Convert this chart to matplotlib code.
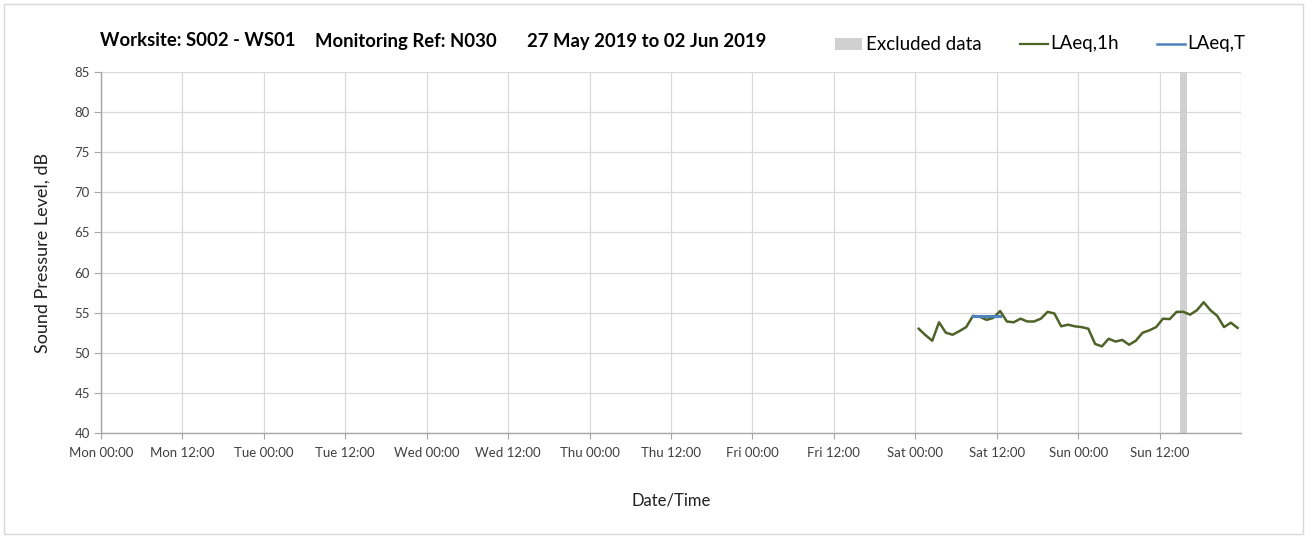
import numpy as np
import matplotlib
matplotlib.use("Agg")
import matplotlib.pyplot as plt
from matplotlib.patches import Rectangle
from matplotlib.lines import Line2D

# ---- data ----
title_parts = ["Worksite: S002 - WS01", "Monitoring Ref: N030", "27 May 2019 to 02 Jun 2019"]
tick_labels = ["Mon 00:00", "Mon 12:00", "Tue 00:00", "Tue 12:00", "Wed 00:00", "Wed 12:00",
               "Thu 00:00", "Thu 12:00", "Fri 00:00", "Fri 12:00", "Sat 00:00", "Sat 12:00",
               "Sun 00:00", "Sun 12:00"]
legend_labels = ["Excluded data", "LAeq,1h", "LAeq,T"]
# hours since Mon 00:00 (hourly readings Sat 00:30 .. Sun 23:30)
laeq1h_hours = list(np.arange(120.5, 168.0, 1.0))
laeq1h_values = [53.0, 52.2, 51.5, 53.8, 52.5, 52.25, 52.7, 53.2, 54.6, 54.5, 54.1, 54.35,
                 55.2, 53.9, 53.8, 54.25, 53.9, 53.9, 54.25, 55.1, 54.9, 53.3, 53.5, 53.3,
                 53.2, 53.0, 51.1, 50.8, 51.75, 51.4, 51.6, 51.0, 51.5, 52.5, 52.8, 53.2,
                 54.25, 54.2, 55.1, 55.1, 54.75, 55.3, 56.3, 55.3, 54.6, 53.2, 53.75, 53.1]
laeqT_hours = [128.5, 132.5]
laeqT_values = [54.6, 54.6]
excluded_start = 159.0
excluded_end = 160.0

GREY = '#d0d0d0'
GREEN = '#4f6228'
BLUE = '#4f81bd'

# ---- figure ----
W, H = 1306, 536
plt.rcParams['font.family'] = ['Lato', 'DejaVu Sans']
fig = plt.figure(figsize=(W / 100, H / 100), dpi=100)

ax = fig.add_axes([101 / W, 1 - 433 / H, (1241 - 101) / W, (433 - 72) / H])

ax.axvspan(excluded_start, excluded_end, color=GREY, lw=0, zorder=1)
ax.plot(laeq1h_hours, laeq1h_values, color=GREEN, lw=1.8, zorder=3)
ax.plot(laeqT_hours, laeqT_values, color=BLUE, lw=2.2, zorder=4)

ax.set_xlim(0, 168)
ax.set_ylim(40, 85)
ax.set_xticks(np.arange(0, 168, 12))
ax.set_xticklabels(tick_labels, fontsize=9.5, color='#404040')
ax.set_yticks(np.arange(40, 86, 5))
ax.tick_params(axis='y', labelsize=9.5, colors='#404040', length=5, color='#a6a6a6', pad=3)
ax.tick_params(axis='x', length=4, color='#a6a6a6', pad=6)

ax.grid(True, color='#d9d9d9', lw=0.9, zorder=0)
ax.set_axisbelow(True)
for s in ['top', 'right']:
    ax.spines[s].set_visible(False)
for s in ['left', 'bottom']:
    ax.spines[s].set_color('#a6a6a6')
    ax.spines[s].set_linewidth(1.0)
ax.axvline(168, color='#d9d9d9', lw=0.9, zorder=0)

ax.set_ylabel("Sound Pressure Level, dB", fontsize=13, color='#202020', labelpad=17)
ax.set_xlabel("Date/Time", fontsize=12, color='#202020', labelpad=24)

# title parts
ty = 1 - 41 / H
for xpx, txt in zip([100, 315, 527], title_parts):
    fig.text(xpx / W, ty, txt, fontsize=13.3, fontweight='bold', va='center', ha='left')

# legend (manually placed)
ly = 1 - 44 / H
fig.add_artist(Rectangle((835 / W, 1 - 50 / H), 27 / W, 12 / H, transform=fig.transFigure,
                         facecolor=GREY, edgecolor='none'))
fig.text(866 / W, ly, legend_labels[0], fontsize=13.5, va='center', ha='left')
fig.add_artist(Line2D([1020 / W, 1048 / W], [ly, ly], transform=fig.transFigure, color=GREEN, lw=1.6))
fig.text(1050 / W, ly, legend_labels[1], fontsize=13.5, va='center', ha='left')
fig.add_artist(Line2D([1157 / W, 1185 / W], [ly, ly], transform=fig.transFigure, color=BLUE, lw=1.8))
fig.text(1187 / W, ly, legend_labels[2], fontsize=13.5, va='center', ha='left')

# outer border
fig.add_artist(Rectangle((4 / W, 2 / H), (1303 - 4) / W, (532 - 2) / H, transform=fig.transFigure,
                         fill=False, edgecolor='#d9d9d9', lw=1.0))

fig.savefig("out.png", dpi=100)
